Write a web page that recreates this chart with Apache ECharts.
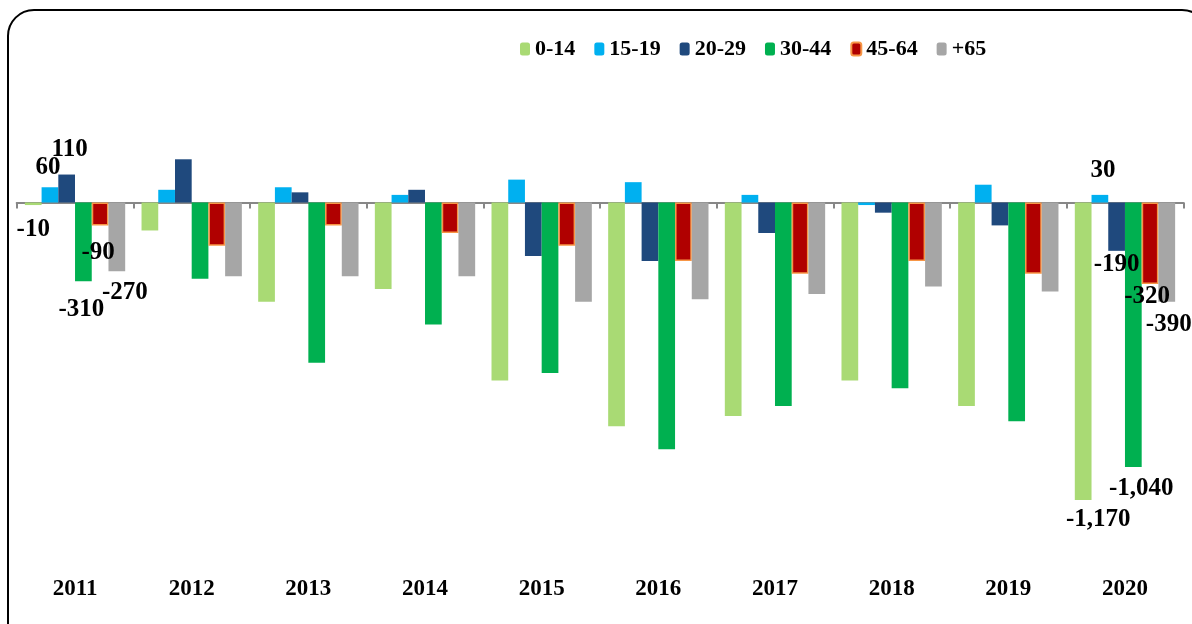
<!DOCTYPE html>
<html>
<head>
<meta charset="utf-8">
<script src="https://cdn.jsdelivr.net/npm/echarts@6/dist/echarts.min.js"></script>
<style>
  html, body { margin: 0; padding: 0; background: #fff; }
  #chart { width: 1192px; height: 624px; }
</style>
</head>
<body>
<div id="chart"></div>
<script>
// years on the category axis
const years = ['2011', '2012', '2013', '2014', '2015', '2016', '2017', '2018', '2019', '2020']
const groups = ['0-14', '15-19', '20-29', '30-44', '45-64', '+65']

// values per age group
const age0_14 = [-10, -110, -390, -340, -700, -880, -840, -700, -800, -1170]
const age15_19 = [60, 50, 60, 30, 90, 80, 30, -10, 70, 30]
const age20_29 = [110, 170, 40, 50, -210, -230, -120, -40, -90, -190]
const age30_44 = [-310, -300, -630, -480, -670, -970, -800, -730, -860, -1040]
const age45_64 = [-90, -170, -90, -120, -170, -230, -280, -230, -280, -320]
const age65 = [-270, -290, -290, -290, -390, -380, -360, -330, -350, -390]

const seriesValues = [age0_14, age15_19, age20_29, age30_44, age45_64, age65]
const colors = ['#A9DA74', '#00B0F0', '#1F497D', '#00B050', '#B00000', '#A6A6A6']

// label nudges (only first and last year are labelled), per group
const labelOffsets = {
  0: [[0, 7], [-2, -2], [3, -7], [-2, 11], [-2, 10], [8, 4]],
  9: [[15, 2], [3, -7], [0, -4], [8, 4], [-3, -5], [2, 5]],
}

const font = 'Liberation Serif'

function buildData(values, gi) {
  return values.map((v, i) => {
    const offs = labelOffsets[i]
    if (!offs) return v
    return {
      value: v,
      label: {
        show: true,
        position: v >= 0 ? 'top' : 'bottom',
        offset: offs[gi],
      },
    }
  })
}

const chart = echarts.init(document.getElementById('chart'))

chart.setOption({
  animation: false,
  graphic: [{
    type: 'rect',
    shape: { x: 8, y: 10, width: 1200, height: 640, r: 26 },
    style: { fill: 'none', stroke: '#000', lineWidth: 2 },
    z: -1,
  }],
  legend: {
    left: 515,
    top: 33,
    itemWidth: 10,
    itemHeight: 13,
    itemGap: 19,
    textStyle: { fontFamily: font, fontWeight: 'bold', fontSize: 22, color: '#000' },
    data: groups,
  },
  grid: { left: 16.7, right: 8.7, top: 100.8, bottom: 65.5 },
  xAxis: [
    {
      type: 'category',
      data: years,
      axisLine: { onZero: true, lineStyle: { color: '#878787', width: 2 } },
      axisTick: { show: true, length: 6, lineStyle: { color: '#878787', width: 2 } },
      axisLabel: { show: false },
    },
    {
      type: 'category',
      data: years,
      position: 'bottom',
      axisLine: { show: false, onZero: false },
      axisTick: { show: false },
      axisLabel: { margin: 19, fontFamily: font, fontWeight: 'bold', fontSize: 23, color: '#000' },
    },
  ],
  yAxis: {
    type: 'value',
    min: -1400,
    max: 400,
    show: false,
    splitLine: { show: false },
  },
  series: groups.map((name, gi) => ({
    name,
    type: 'bar',
    xAxisIndex: 0,
    barGap: '0%',
    barCategoryGap: '14%',
    itemStyle: gi === 4
      ? { color: colors[gi], borderColor: '#F79646', borderWidth: 1.5 }
      : { color: colors[gi] },
    label: {
      show: false,
      distance: 5,
      fontFamily: font,
      fontWeight: 'bold',
      fontSize: 25,
      color: '#000',
      formatter: (p) => p.value.toLocaleString('en-US'),
    },
    data: buildData(seriesValues[gi], gi),
  })),
})
</script>
</body>
</html>
